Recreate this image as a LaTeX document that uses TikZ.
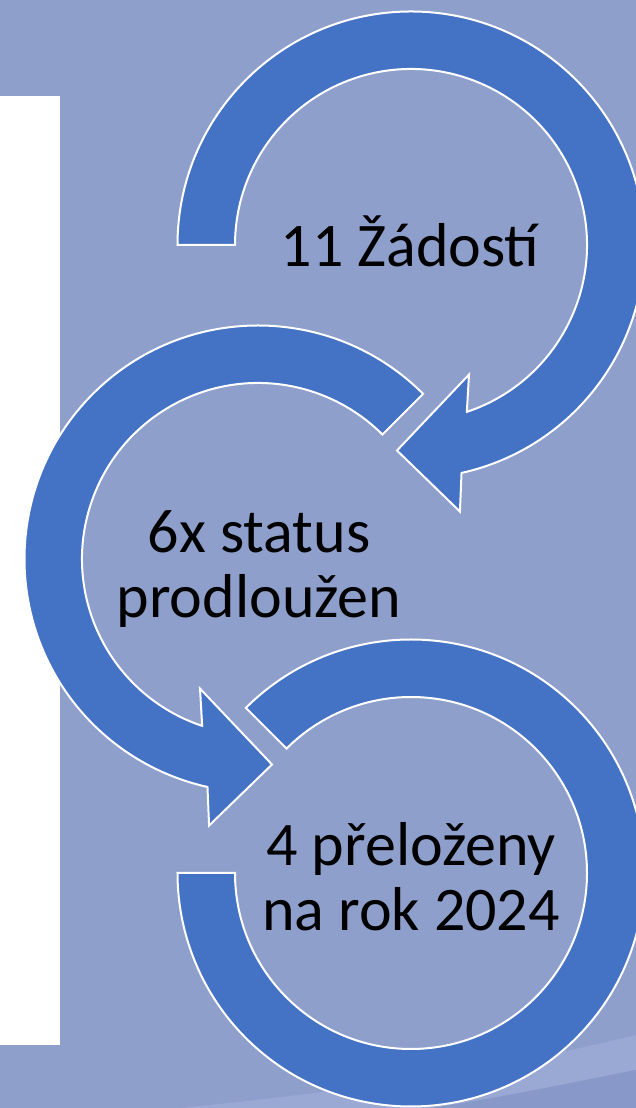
\documentclass[tikz,border=0pt]{standalone}
\usepackage{fontspec}
\setmainfont{Carlito}
\usepackage{tikz}
\usetikzlibrary{positioning}
\definecolor{bgblue}{HTML}{8E9FCB}
\definecolor{bandlight}{HTML}{9AA8D4}
\definecolor{banddark}{HTML}{8898C9}
\definecolor{ringblue}{HTML}{4472C4}

\begin{document}
\begin{tikzpicture}[x=1pt,y=1pt,
  ring/.style={fill=ringblue,draw=white,line width=2pt,line join=miter},
  label/.style={align=center,inner sep=0pt,font=\fontsize{62}{65}\selectfont}]
\useasboundingbox (0,0) rectangle (636,1108);
\clip (0,0) rectangle (636,1108);
% background and swoosh
\fill[bgblue] (0,0) rectangle (636,1108);
\fill[bandlight] (180,0) .. controls (400,22) and (520,45) .. (636,73) -- (636,38) .. controls (570,25) and (500,10) .. (430,0) -- cycle;
\fill[banddark] (430,0) .. controls (500,10) and (570,25) .. (636,38) -- (636,0) -- cycle;
\fill[white] (0,63) rectangle (60,1012);
% centres of the three rings
\coordinate (top) at (411,863);
\coordinate (mid) at (258,549);
\coordinate (bot) at (411,235);
% ring 1
\begin{scope}[shift={(top)}]
\draw[ring] (180:233.5) arc[start angle=180,end angle=-77.5,radius=233.5] -- (-79.6:271) -- (-93.9:206) -- (-65.9:142) -- (-71.5:176) arc[start angle=-71.5,end angle=180,radius=176] -- cycle;
\end{scope}
% ring 2
\begin{scope}[shift={(mid)}]
\draw[ring] (45:233.5) arc[start angle=45,end angle=257.5,radius=233.5] -- (259.6:271) -- (273.9:206) -- (245.9:142) -- (251.5:176) arc[start angle=251.5,end angle=45,radius=176] -- cycle;
\end{scope}
% ring 3
\begin{scope}[shift={(bot)}]
\draw[ring] (135:233.5) arc[start angle=135,end angle=-180,radius=233.5] -- (-180:176) arc[start angle=-180,end angle=135,radius=176] -- cycle;
\end{scope}
% texts
\node[label,anchor=base] (t1) at (410,841) {11 Žádostí};
\node[label] (t2) at (259,539) {6x status\\prodloužen};
\node[label] (t3) at (411,231) {4 přeloženy\\na rok 2024};
\end{tikzpicture}
\end{document}
